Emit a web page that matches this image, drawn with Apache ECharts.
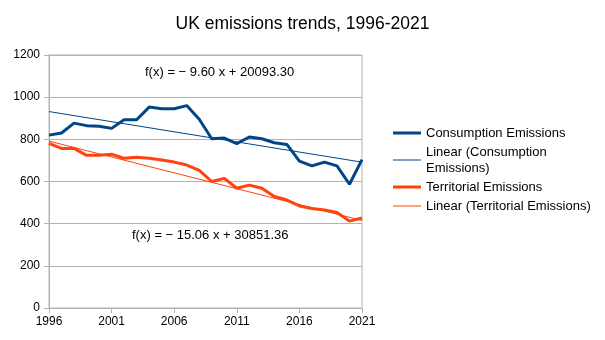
<!DOCTYPE html>
<html>
<head>
<meta charset="utf-8">
<script src="https://cdn.jsdelivr.net/npm/echarts@6/dist/echarts.min.js"></script>
<style>html,body{margin:0;padding:0;background:#fff}#c{width:605px;height:340px}</style>
</head>
<body>
<div id="c"></div>
<script>
const years = ['1996','1997','1998','1999','2000','2001','2002','2003','2004','2005','2006','2007','2008','2009','2010','2011','2012','2013','2014','2015','2016','2017','2018','2019','2020','2021'];
const consumption = [820,830,877,865,862,852,893,893,953,945,945,960,895,803,806,780,811,803,784,776,697,674,692,674,587,704];
const territorial = [781,757,757,724,724,729,710,715,710,702,692,678,653,600,615,568,583,568,529,512,484,472,465,453,412,427];
// trend line coefficients as printed on the chart: [slope, intercept]
const consumptionTrend = [-9.60, 20093.30];
const territorialTrend = [-15.06, 30851.36];
const yTicks = [0,200,400,600,800,1000,1200];

function trendEnds(c){
  const a = years[0], b = years[years.length-1];
  return [[a, c[0]*Number(a)+c[1]], [b, c[0]*Number(b)+c[1]]];
}

const blue = '#004586', orange = '#ff420e';
const thick = 'path://M0,0H28V3H0Z', thin = 'path://M0,0H28V1H0Z';
const chart = echarts.init(document.getElementById('c'), null, {renderer:'canvas'});
chart.setOption({
  animation:false,
  backgroundColor:'#fff',
  textStyle:{fontFamily:'Liberation Sans, Arial, sans-serif'},
  title:{text:'UK emissions trends, 1996-2021', left:'center', top:10,
    textStyle:{fontSize:17.5, fontWeight:'normal', color:'#000', fontFamily:'Liberation Sans'}},
  grid:{left:49, right:243, top:55, bottom:32, show:true, borderColor:'#b3b3b3', borderWidth:1},
  legend:{
    orient:'vertical', left:388, top:120, itemWidth:28, itemHeight:10, itemGap:3,
    symbolKeepAspect:true,
    textStyle:{fontSize:13, lineHeight:16, color:'#000', fontFamily:'Liberation Sans'},
    formatter:function(n){ return n==='Linear (Consumption Emissions)' ? 'Linear (Consumption\nEmissions)' : n; },
    data:[
      {name:'Consumption Emissions', icon:thick},
      {name:'Linear (Consumption Emissions)', icon:thin},
      {name:'Territorial Emissions', icon:thick},
      {name:'Linear (Territorial Emissions)', icon:thin}
    ]
  },
  xAxis:{type:'category', data:years, boundaryGap:false,
    axisLine:{lineStyle:{color:'#b3b3b3'}},
    axisTick:{interval:4, length:5, lineStyle:{color:'#b3b3b3'}},
    axisLabel:{interval:4, color:'#000', fontSize:12, margin:8},
    splitLine:{show:false}},
  yAxis:{type:'value', min:yTicks[0], max:yTicks[yTicks.length-1], interval:200,
    axisLine:{show:true, lineStyle:{color:'#b3b3b3'}},
    axisTick:{show:true, length:5, lineStyle:{color:'#b3b3b3'}},
    axisLabel:{color:'#000', fontSize:12, margin:9, formatter:function(v){return String(v);}},
    splitLine:{lineStyle:{color:'#b3b3b3'}}},
  graphic:[
    {type:'text', left:145, top:66, style:{text:'f(x) = \u2212 9.60 x + 20093.30', font:'13px Liberation Sans', fill:'#000'}},
    {type:'text', left:132, top:229, style:{text:'f(x) = \u2212 15.06 x + 30851.36', font:'13px Liberation Sans', fill:'#000'}}
  ],
  series:[
    {name:'Consumption Emissions', type:'line', data:consumption, symbol:'none', lineStyle:{width:3, color:blue}, itemStyle:{color:blue}, z:3},
    {name:'Linear (Consumption Emissions)', type:'line', data:trendEnds(consumptionTrend), symbol:'none', lineStyle:{width:1, color:blue}, itemStyle:{color:blue}, z:4},
    {name:'Territorial Emissions', type:'line', data:territorial, symbol:'none', lineStyle:{width:3, color:orange}, itemStyle:{color:orange}, z:3},
    {name:'Linear (Territorial Emissions)', type:'line', data:trendEnds(territorialTrend), symbol:'none', lineStyle:{width:1, color:orange}, itemStyle:{color:orange}, z:4}
  ]
});
</script>
</body>
</html>
